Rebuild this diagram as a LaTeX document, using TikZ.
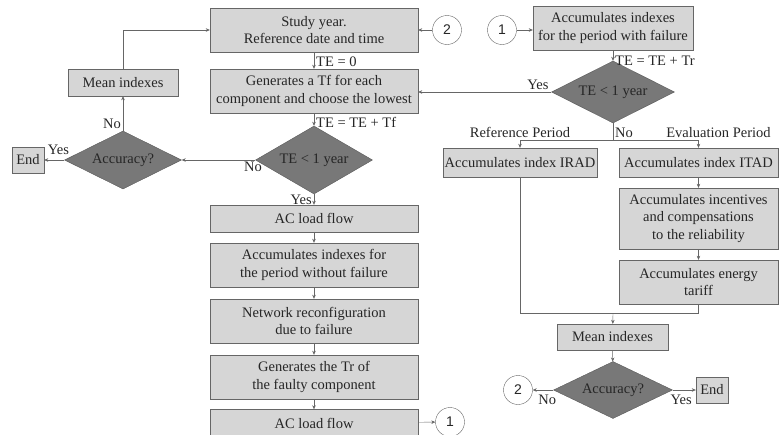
\documentclass[tikz,border=0pt]{standalone}
\usepackage{fontspec}
\setmainfont{Liberation Serif}
\newfontfamily\digitfont{Liberation Sans}
\usetikzlibrary{shapes.geometric,arrows.meta}
\newcommand{\Period}[1]{#1 Period}

\begin{document}
\begin{tikzpicture}[x=1pt, y=-1pt,
    font=\fontsize{14.5}{17.5}\selectfont,
    block/.style={draw=black!60, fill=black!16, text=black!85, inner sep=0pt,
        align=center, minimum width=208, minimum height=44},
    decision/.style={diamond, draw=black!65, fill=black!53, text=black!85,
        inner sep=0pt, shape aspect=1.8},
    conn/.style={circle, draw=black!60, fill=white, text=black!85, inner sep=0pt,
        minimum size=29, font=\digitfont\fontsize{14}{14}\selectfont},
    lab/.style={text=black!85, inner sep=2pt},
    arr/.style={draw=black!60, -{Stealth[length=4pt, width=3.5pt]}},
    line/.style={draw=black!60}]

    \path[use as bounding box, clip] (0,0) rectangle (784,434);

    % left column
    \draw(314,30) node[block] (study) {Study year.\\Reference date and time};
    \draw(314,91) node[block] (gentf) {Generates a Tf for each\\component and choose the lowest};
    \draw(314,160) node[decision, minimum width=117, minimum height=68] (teleft) {TE < 1 year};
    \draw(123,160) node[decision, minimum width=117, minimum height=58] (accleft) {Accuracy?};
    \draw(123,82.5) node[block, minimum width=110, minimum height=27] (meanleft) {Mean indexes};
    \draw(28,160) node[block, minimum width=32, minimum height=26] (endleft) {End};
    \draw(314,218.5) node[block, minimum height=27] (acflow) {AC load flow};
    \draw(314,265) node[block] (nofail) {Accumulates indexes for\\the period without failure};
    \draw(314,321) node[block] (netrec) {Network reconfiguration\\due to failure};
    \draw(314,377) node[block] (gentr) {Generates the Tr of\\the faulty component};
    \draw(314,423) node[block, minimum height=27] (acflowb) {AC load flow};
    \draw(450,422) node[conn] (oneb) {1};

    % right column
    \draw(447,30) node[conn] (twotop) {2};
    \draw(502,30) node[conn] (onetop) {1};
    \draw(613,28) node[block, minimum width=160] (withfail) {Accumulates indexes\\for the period with failure};
    \draw(613,92) node[decision, minimum width=123, minimum height=62] (teright) {TE < 1 year};
    \draw(520,162.5) node[block, minimum width=154, minimum height=29] (irad) {Accumulates index IRAD};
    \draw(698.5,162.5) node[block, minimum width=159, minimum height=29] (itad) {Accumulates index ITAD};
    \draw(698.5,218.5) node[block, minimum width=159, minimum height=61] (incent) {Accumulates incentives\\and compensations\\to the reliability};
    \draw(698.5,282) node[block, minimum width=159] (tariff) {Accumulates energy\\tariff};
    \draw(612.5,337) node[block, minimum width=111, minimum height=26] (meanright) {Mean indexes};
    \draw(613,390) node[decision, minimum width=119, minimum height=57] (accright) {Accuracy?};
    \draw(712,390) node[block, minimum width=32, minimum height=26] (endright) {End};
    \draw(518,390) node[conn] (twob) {2};
    \coordinate (split) at (613,140);
    \coordinate (join) at (613,313);

    \draw[arr] (study) -- (gentf) node[lab, pos=0.6, right] {TE = 0};
    \draw[arr] (gentf) -- (teleft) node[lab, pos=0.7, right] {TE = TE + Tf};
    \draw[arr] (teleft) -- (acflow) node[lab, midway, left] {Yes};
    \draw[arr] (teleft) -- (accleft) node[lab, pos=0.03, below] {No};
    \draw[arr] (accleft) -- (endleft) node[lab, pos=0.29, above=3pt] {Yes};
    \draw[arr] (accleft) -- (meanleft) node[lab, pos=0.2, left] {No};
    \draw[arr] (meanleft) |- (study);
    \draw[arr] (acflow) -- (nofail);
    \draw[arr] (nofail) -- (netrec);
    \draw[arr] (netrec) -- (gentr);
    \draw[arr] (gentr) -- (acflowb);
    \draw[arr] (acflowb) -- (oneb);

    \draw[arr] (twotop) -- (study);
    \draw[arr] (onetop.east) -- (onetop.east -| withfail.west);
    \draw[arr] (withfail) -- (teright) node[lab, pos=1, right] {TE = TE + Tr};
    \draw[arr] (teright) -- (teright -| gentf.east) node[lab, pos=0.1, above] {Yes};
    \draw[line] (teright) -- (split) node[lab, pos=0.6, right] {No};
    \draw[arr] (split) -| (irad) node[lab, pos=0.5, above] {\Period{Reference}};
    \draw[arr] (split) -| (itad) node[lab, pos=0.5, above, xshift=20] {\Period{Evaluation}};
    \draw[arr] (itad) -- (incent);
    \draw[arr] (incent) -- (tariff);
    \draw[line] (irad) |- (join);
    \draw[line] (tariff) |- (join);
    \draw[arr] (join) -- (meanright);
    \draw[arr] (meanright) -- (accright);
    \draw[arr] (accright) -- (twob) node[lab, pos=0.29, below=3pt] {No};
    \draw[arr] (accright) -- (endright) node[lab, pos=0.37, below=3pt] {Yes};

\end{tikzpicture}
\end{document}
